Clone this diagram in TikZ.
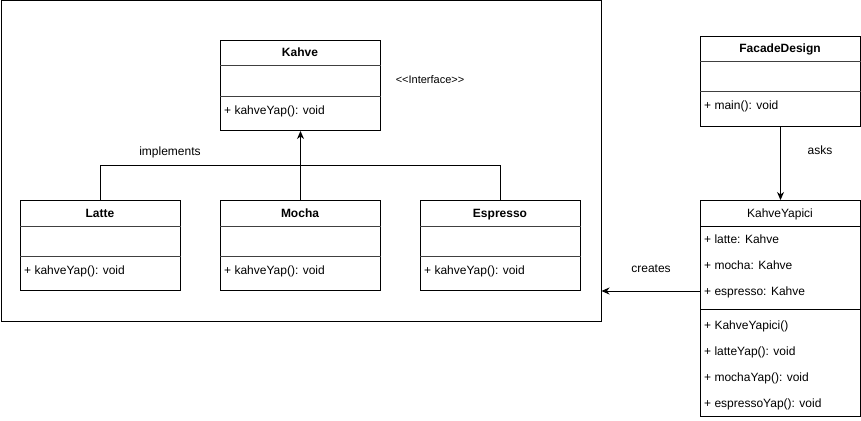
\documentclass[tikz,border=0pt]{standalone}
\usepackage{fontspec}
\setmainfont{Liberation Sans}
\usetikzlibrary{arrows.meta,calc}
\begin{document}
\begin{tikzpicture}[x=1pt,y=-1pt,
  box/.style={draw, line width=1pt, minimum width=160pt, anchor=north west, inner sep=0pt},
  divider/.style={draw=black!75, line width=1pt},
  fixh/.style={text height=8.6pt, text depth=0pt},
  ttl/.style={font=\bfseries\fontsize{12}{14}\selectfont, inner sep=0pt, fixh},
  lbl/.style={font=\fontsize{12}{14}\selectfont, inner sep=0pt, fixh},
  txt/.style={font=\fontsize{12}{14}\selectfont, anchor=west, inner sep=0pt, fixh},
  conn/.style={line width=1pt, -{Stealth[length=8pt,width=7pt,inset=2.5pt]}},
  plainconn/.style={line width=1pt}]
\useasboundingbox (0,0) rectangle (861,420);
\fill[white] (0,0) rectangle (861,420);

% outer frame
\node[draw, line width=1pt, minimum width=600pt, minimum height=320pt, anchor=north west, inner sep=0pt] (frame) at (0.5,0.5) {};

% Kahve
\node[box, minimum height=90pt] (kahve) at (220,40) {};
\node[ttl] (kahvet) at (300,52.5) {Kahve};
\draw[divider] ($(kahve.north west)+(0,25)$) -- ($(kahve.north east)+(0,25)$);
\draw[divider] ($(kahve.north west)+(0,56)$) -- ($(kahve.north east)+(0,56)$);
\node[txt] (kahvem) at (224,110) {+ kahveYap(): void};
\node[lbl, font=\fontsize{11}{13}\selectfont] (iface) at (430,79) {<\kern0pt<Interface>\kern0pt>};

% Latte
\node[box, minimum height=90pt] (latte) at (20,200) {};
\node[ttl] (lattet) at (100,213) {Latte};
\draw[divider] ($(latte.north west)+(0,26)$) -- ($(latte.north east)+(0,26)$);
\draw[divider] ($(latte.north west)+(0,56)$) -- ($(latte.north east)+(0,56)$);
\node[txt] (lattem) at (24,270) {+ kahveYap(): void};

% Mocha
\node[box, minimum height=90pt] (mocha) at (220,200) {};
\node[ttl] (mochat) at (300,213) {Mocha};
\draw[divider] ($(mocha.north west)+(0,26)$) -- ($(mocha.north east)+(0,26)$);
\draw[divider] ($(mocha.north west)+(0,56)$) -- ($(mocha.north east)+(0,56)$);
\node[txt] (mocham) at (224,270) {+ kahveYap(): void};

% Espresso
\node[box, minimum height=90pt] (espresso) at (420,200) {};
\node[ttl] (espressot) at (500,213) {Espresso};
\draw[divider] ($(espresso.north west)+(0,26)$) -- ($(espresso.north east)+(0,26)$);
\draw[divider] ($(espresso.north west)+(0,56)$) -- ($(espresso.north east)+(0,56)$);
\node[txt] (espressom) at (424,270) {+ kahveYap(): void};

% FacadeDesign
\node[box, minimum height=90pt] (facade) at (700,36) {};
\node[ttl] (facadet) at (780,48.5) {FacadeDesign};
\draw[divider] ($(facade.north west)+(0,25)$) -- ($(facade.north east)+(0,25)$);
\draw[divider] ($(facade.north west)+(0,55)$) -- ($(facade.north east)+(0,55)$);
\node[txt] (facadem) at (704,105) {+ main(): void};

% KahveYapici
\node[box, minimum height=216pt] (yapici) at (700,200) {};
\node[lbl] (yapicit) at (780,213) {KahveYapici};
\draw[plainconn] ($(yapici.north west)+(0,26)$) -- ($(yapici.north east)+(0,26)$);
\node[txt] (flatte) at (704,239) {+ latte: Kahve};
\node[txt] (fmocha) at (704,265) {+ mocha: Kahve};
\node[txt] (fesp) at (704,291) {+ espresso: Kahve};
\draw[plainconn] ($(yapici.north west)+(0,109)$) -- ($(yapici.north east)+(0,109)$);
\node[txt] (mctor) at (704,325) {+ KahveYapici()};
\node[txt] (mlatte) at (704,351) {+ latteYap(): void};
\node[txt] (mmocha) at (704,377) {+ mochaYap(): void};
\node[txt] (mesp) at (704,403) {+ espressoYap(): void};

% connectors
\draw[plainconn] (latte.north) -- ++(0,-35) -| (espresso.north);
\draw[conn] (mocha.north) -- (kahve.south);
\node[lbl] (impl) at (170,151) {implements};

\draw[conn] (facade.south) -- (yapici.north);
\node[lbl] (asks) at (820,150) {asks};

\draw[conn] (yapici.west |- fesp) -- (frame.east |- fesp);
\node[lbl] (creates) at (651,268) {creates};
\end{tikzpicture}
\end{document}
